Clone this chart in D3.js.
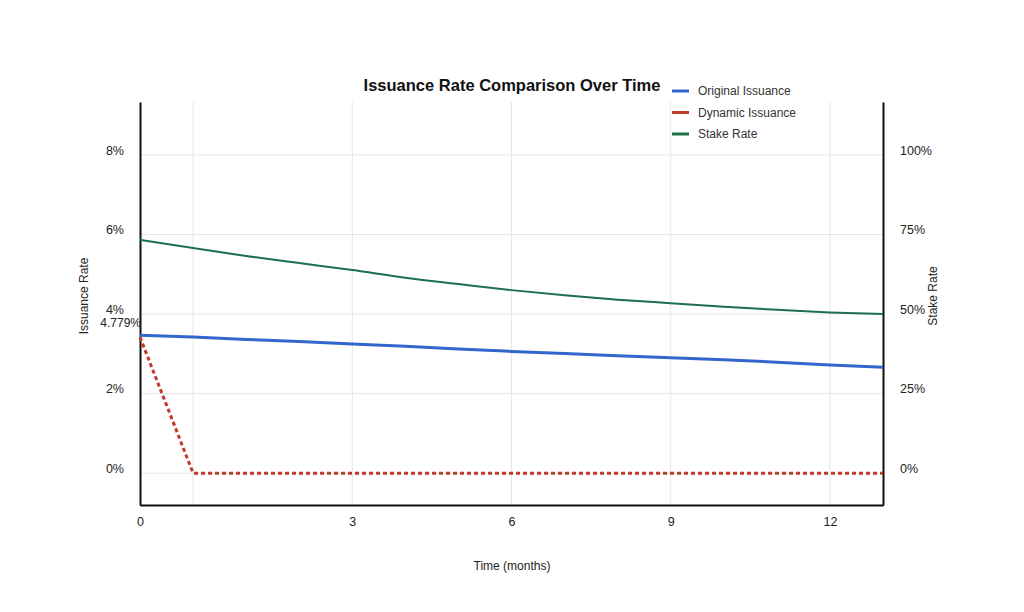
<!DOCTYPE html>
<html>
<head>
<meta charset="utf-8">
<script src="https://cdn.jsdelivr.net/npm/d3@7"></script>
<style>
  body { margin: 0; background: #fff; }
  svg { font-family: "Liberation Sans", Arial, sans-serif; }
</style>
</head>
<body>
<div id="chart"></div>
<script>
// months on the plotted axis
var months = [0, 1, 2, 3, 4, 5, 6, 7, 8, 9, 10, 11, 12, 13, 14];
// issuance rates in percent (left axis)
var originalIssuance = [3.47, 3.42, 3.36, 3.31, 3.25, 3.19, 3.12, 3.06, 3.01, 2.95, 2.90, 2.85, 2.79, 2.72, 2.66];
var dynamicIssuance = [3.42, 0, 0, 0, 0, 0, 0, 0, 0, 0, 0, 0, 0, 0, 0];
// stake rate in percent (right axis)
var stakeRate = [73.3, 70.7, 68.2, 66.0, 63.8, 61.4, 59.4, 57.5, 55.9, 54.5, 53.4, 52.3, 51.3, 50.5, 50.0];

var xTickPos = [0, 4, 7, 10, 13];
var xTickLabels = ["0", "3", "6", "9", "12"];
var xGrid = [1, 4, 7, 10, 13];
var leftTicks = [0, 2, 4, 6, 8];
var rightTicks = [0, 25, 50, 75, 100];
var startLabel = "4.779%";

var seriesNames = ["Original Issuance", "Dynamic Issuance", "Stake Rate"];
var seriesColors = ["#3366cc", "#c0392b", "#1e6f4c"];

var W = 1024, H = 612;
var margin = {top: 102, right: 141, bottom: 107, left: 140},
    width = W - margin.left - margin.right,
    height = H - margin.top - margin.bottom;

var svg = d3.select("#chart").append("svg")
    .attr("width", W).attr("height", H);
var g = svg.append("g")
    .attr("transform", "translate(" + margin.left + "," + margin.top + ")");

var x = d3.scaleLinear().domain([0, 14]).range([0, width]);
var yL = d3.scaleLinear().domain([-0.8, 9.33]).range([height, 0]);
var yR = d3.scaleLinear().domain([-10, 116.6]).range([height, 0]);

// grid
g.selectAll(".hgrid").data(leftTicks).enter().append("line")
    .attr("x1", 0).attr("x2", width)
    .attr("y1", function(d) { return yL(d); })
    .attr("y2", function(d) { return yL(d); })
    .style("stroke", "#e6e6e6").style("stroke-width", 1);
g.selectAll(".vgrid").data(xGrid).enter().append("line")
    .attr("y1", 0).attr("y2", height)
    .attr("x1", function(d) { return x(d); })
    .attr("x2", function(d) { return x(d); })
    .style("stroke", "#e6e6e6").style("stroke-width", 1);

// axes
var axL = g.append("g")
    .call(d3.axisLeft(yL).tickValues(leftTicks).tickSize(0).tickPadding(16)
        .tickFormat(function(d) { return d + "%"; }));
var axR = g.append("g").attr("transform", "translate(" + width + ",0)")
    .call(d3.axisRight(yR).tickValues(rightTicks).tickSize(0).tickPadding(17)
        .tickFormat(function(d) { return d + "%"; }));
var axB = g.append("g").attr("transform", "translate(0," + height + ")")
    .call(d3.axisBottom(x).tickValues(xTickPos).tickSize(0).tickPadding(12)
        .tickFormat(function(d, i) { return xTickLabels[i]; }));
[axL, axR, axB].forEach(function(a) {
    a.select(".domain").style("stroke", "#111").style("stroke-width", 2);
    a.selectAll("text").style("font-size", "12.5px").style("fill", "#222")
        .style("font-family", "Liberation Sans, Arial, sans-serif");
});
axL.selectAll("text").attr("dy", "-0.05em");
axR.selectAll("text").attr("dy", "-0.05em");

// lines
var lineL = function(vals) {
    return d3.line().x(function(d, i) { return x(months[i]); })
        .y(function(d) { return yL(d); })(vals);
};
var lineR = d3.line().x(function(d, i) { return x(months[i]); })
    .y(function(d) { return yR(d); }).curve(d3.curveMonotoneX);

g.append("path").attr("d", lineR(stakeRate))
    .style("fill", "none").style("stroke", seriesColors[2]).style("stroke-width", 2);
g.append("path").attr("d", lineL(originalIssuance))
    .style("fill", "none").style("stroke", seriesColors[0]).style("stroke-width", 3);
g.append("path").attr("d", lineL(dynamicIssuance))
    .style("fill", "none").style("stroke", seriesColors[1]).style("stroke-width", 3)
    .style("stroke-dasharray", "4,3");

// start annotation
g.append("text")
    .attr("x", x(months[0]) + 1).attr("y", yL(dynamicIssuance[0]) - 10)
    .attr("text-anchor", "end")
    .style("font-size", "12px").style("fill", "#222")
    .text(startLabel);

// title
svg.append("text")
    .attr("x", 512).attr("y", 91)
    .attr("text-anchor", "middle")
    .style("font-size", "16.5px").style("font-weight", "bold").style("fill", "#111")
    .text("Issuance Rate Comparison Over Time");

// legend
var leg = svg.append("g").attr("transform", "translate(672,91)");
seriesNames.forEach(function(name, i) {
    leg.append("line").attr("x1", 0).attr("x2", 17)
        .attr("y1", i * 21.5).attr("y2", i * 21.5)
        .style("stroke", seriesColors[i]).style("stroke-width", 3);
    leg.append("text").attr("x", 26).attr("y", i * 21.5 + 4)
        .style("font-size", "12px").style("fill", "#333")
        .text(name);
});

// axis titles
svg.append("text")
    .attr("transform", "translate(88,296) rotate(-90)")
    .attr("text-anchor", "middle")
    .style("font-size", "12px").style("fill", "#222")
    .text("Issuance Rate");
svg.append("text")
    .attr("transform", "translate(937,296) rotate(-90)")
    .attr("text-anchor", "middle")
    .style("font-size", "12px").style("fill", "#222")
    .text("Stake Rate");
svg.append("text")
    .attr("x", 512).attr("y", 570)
    .attr("text-anchor", "middle")
    .style("font-size", "12px").style("fill", "#222")
    .text("Time (months)");
</script>
</body>
</html>
